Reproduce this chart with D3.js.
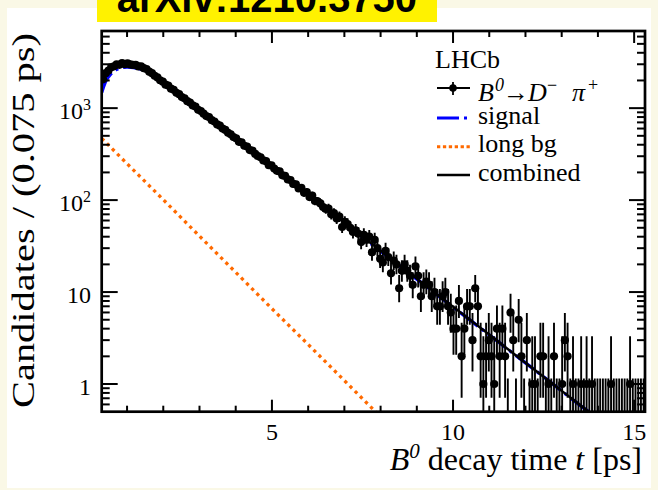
<!DOCTYPE html>
<html>
<head>
<meta charset="utf-8">
<script src="https://cdn.jsdelivr.net/npm/d3@7"></script>
<style>
  body { margin: 0; background: #faf8e6; }
  svg { display: block; }
  text { font-family: "Liberation Serif", "Times New Roman", serif; fill: #000; }
</style>
</head>
<body>
<svg width="658" height="490"></svg>
<script>
// histogram: B0 -> D- pi+ decay time, bins of 0.075 ps starting at 0.3 ps
var binStart = 0.3, binWidth = 0.075;
var counts = [
  2060, 2400, 2560, 2790, 2850, 2990, 2960, 3080, 3010, 3070,
  2990, 2950, 2960, 2840, 2850, 2720, 2660, 2490, 2400, 2250,
  2160, 2010, 1940, 1800, 1760, 1630, 1580, 1470, 1420, 1320,
  1280, 1190, 1150, 1070, 1040, 960, 930, 870, 820, 800,
  740, 715, 665, 645, 600, 580, 540, 520, 485, 470,
  430, 425, 390, 382, 350, 345, 318, 300, 292, 270,
  265, 240, 238, 220, 208, 205, 186, 183, 168, 165,
  150, 148, 134, 136, 120, 122, 108, 112, 98, 97,
  92, 84, 80, 81, 70, 72, 63, 66, 51, 58,
  55, 50, 45, 47, 43, 35, 42, 37, 40, 27,
  37, 30, 23, 21, 28, 24, 16, 22, 20, 11,
  17, 20, 17, 15, 12, 19, 15, 9, 12, 13,
  12, 9, 10, 7, 7, 9, 10, 7, 6, 4,
  4, 8, 2, 4, 7, 7, 3, 11, 7, 2,
  1, 2, 3, 2, 1, 4, 2, 4, 2, 0,
  6, 3, 0, 5, 2, 0, 3, 0, 1, 1,
  0, 2, 2, 0, 1, 0, 2, 0, 0, 1,
  3, 2, 0, 1, 0, 0, 1, 0, 1, 0,
  1, 0, 0, 0, 0, 0, 0, 1, 0, 0,
  0, 0, 0, 0, 1, 0, 0, 0, 0, 0
];

// fit curves
var curveT = [0.3, 0.4, 0.5, 0.6, 0.7, 0.8, 0.9, 1.0, 1.1, 1.2, 1.3, 1.4, 1.5,
  2.0, 2.5, 3.0, 3.5, 4.0, 4.5, 5.0, 5.5, 6.0, 6.5, 7.0, 7.5, 8.0, 8.5, 9.0,
  9.5, 10.0, 10.5, 11.0, 11.5, 12.0, 12.5, 13.0, 13.5, 14.0, 14.5];
var combined = [1950, 2350, 2620, 2820, 2950, 3020, 3050, 3040, 3010, 2960, 2900, 2820, 2716,
  1910, 1345, 946, 666, 469, 330, 232, 164, 115, 81, 57, 40.2, 28.3, 19.9, 14.0,
  9.86, 6.94, 4.89, 3.44, 2.42, 1.70, 1.20, 0.843, 0.594, 0.418, 0.294];
var signal = [1481, 1922, 2229, 2463, 2624, 2722, 2778, 2791, 2783, 2752, 2710, 2647, 2558,
  1809, 1281, 905, 640, 453, 320, 225, 160, 112, 79.3, 55.9, 39.5, 27.9, 19.6, 13.8,
  9.76, 6.88, 4.85, 3.42, 2.41, 1.70, 1.20, 0.84, 0.59, 0.42, 0.29];
var bgT = [0.3, 1, 2, 3, 4, 5, 6, 7, 8];
var longBg = [469, 249, 101, 40.6, 16.4, 6.6, 2.69, 1.09, 0.44];

var xMajor = [5, 10, 15];
var xMinor = [1, 2, 3, 4, 6, 7, 8, 9, 11, 12, 13, 14];
var yMajor = [1, 10, 100, 1000];
var yLabels = [["1", ""], ["10", ""], ["10", "2"], ["10", "3"]];

var svg = d3.select("svg"),
    width = +svg.attr("width"),
    height = +svg.attr("height");

// page: pale border, white panel, yellow arXiv tag
svg.append("rect").attr("width", width).attr("height", height).attr("fill", "#faf8e6");
svg.append("rect").attr("x", 7).attr("y", 8).attr("width", 644).attr("height", 480).attr("fill", "#fff");
svg.append("rect").attr("x", 97).attr("y", 0).attr("width", 340).attr("height", 22).attr("fill", "#fff200");
svg.append("text").attr("x", 267).attr("y", 12).attr("text-anchor", "middle")
  .style("font-family", "'Liberation Sans', Arial, sans-serif").style("font-weight", "bold")
  .style("font-size", "40px").text("arXiv:1210.3750");

// plot frame in pixels
var pL = 101.7, pR = 645, pT = 31, pB = 411.7;
var x = d3.scaleLinear().domain([0.3, 15.3]).range([pL, pR]);
var y = d3.scaleLog().domain([0.5, 6900]).range([pB, pT]);

svg.append("clipPath").attr("id", "plot")
  .append("rect").attr("x", pL).attr("y", pT).attr("width", pR - pL).attr("height", pB - pT);

var plot = svg.append("g").attr("clip-path", "url(#plot)");

// poisson (garwood) intervals as used by RooFit
var lowTab = [0, 0.173, 0.708, 1.367, 2.086, 2.840, 3.620, 4.419, 5.232, 6.057, 6.891];
var upTab = [1.148, 3.300, 4.638, 5.918, 7.163, 8.382, 9.584, 10.77, 11.95, 13.11, 14.27];
function errLow(n) { return n <= 10 ? lowTab[n] : n - Math.sqrt(n) + 0.05; }
function errUp(n) { return n <= 10 ? upTab[n] : n + Math.sqrt(n) + 1; }

var bins = counts.map(function(n, i) {
  return { lo: binStart + i * binWidth, c: binStart + (i + 0.5) * binWidth, hi: binStart + (i + 1) * binWidth, n: n };
});

var line = function(xs) {
  return d3.line()
    .x(function(d, i) { return x(xs[i]); })
    .y(function(d) { return y(d); })
    .curve(d3.curveMonotoneX);
};

// signal (blue dash-dot) and long lived background (orange dots)
plot.append("path").datum(signal).attr("d", line(curveT))
  .attr("fill", "none").attr("stroke", "#0000ff").attr("stroke-width", 3.4)
  .attr("stroke-dasharray", "22,5,3,5");
plot.append("path").datum(longBg).attr("d", line(bgT))
  .attr("fill", "none").attr("stroke", "#ff6a00").attr("stroke-width", 3.3)
  .attr("stroke-dasharray", "3.3,4");

// data points with error bars
var pts = plot.append("g");
pts.selectAll(".ey").data(bins).enter().append("line")
  .attr("x1", function(d) { return x(d.c); }).attr("x2", function(d) { return x(d.c); })
  .attr("y1", function(d) { return d.n > 0 ? y(Math.max(errLow(d.n), 0.3)) : pB + 2; })
  .attr("y2", function(d) { return y(errUp(d.n)); })
  .attr("stroke", "#000").attr("stroke-width", 1.9);
pts.selectAll(".ex").data(bins.filter(function(d) { return d.n > 0; })).enter().append("line")
  .attr("x1", function(d) { return x(d.lo); }).attr("x2", function(d) { return x(d.hi); })
  .attr("y1", function(d) { return y(d.n); }).attr("y2", function(d) { return y(d.n); })
  .attr("stroke", "#000").attr("stroke-width", 1.9);
pts.selectAll("circle").data(bins.filter(function(d) { return d.n > 0; })).enter().append("circle")
  .attr("cx", function(d) { return x(d.c); }).attr("cy", function(d) { return y(d.n); })
  .attr("r", 4.1).attr("fill", "#000");

// combined fit on top
plot.append("path").datum(combined).attr("d", line(curveT))
  .attr("fill", "none").attr("stroke", "#000").attr("stroke-width", 2.4);

// frame and ticks (ROOT style, inside on all four sides)
var axes = svg.append("g").attr("stroke", "#000").attr("stroke-width", 2);
function tick(x1, y1, x2, y2) {
  axes.append("line").attr("x1", x1).attr("y1", y1).attr("x2", x2).attr("y2", y2);
}
xMajor.forEach(function(v) { tick(x(v), pB, x(v), pB - 12); tick(x(v), pT, x(v), pT + 12); });
xMinor.forEach(function(v) { tick(x(v), pB, x(v), pB - 6); tick(x(v), pT, x(v), pT + 6); });
var yMinor = [];
[0.1, 1, 10, 100, 1000].forEach(function(dec) {
  for (var k = 2; k <= 9; k++) {
    var v = dec * k;
    if (v > 0.5 && v < 6900) yMinor.push(v);
  }
});
yMajor.forEach(function(v) { tick(pL, y(v), pL + 16, y(v)); tick(pR, y(v), pR - 16, y(v)); });
yMinor.forEach(function(v) { tick(pL, y(v), pL + 8, y(v)); tick(pR, y(v), pR - 8, y(v)); });
axes.append("rect").attr("x", pL).attr("y", pT).attr("width", pR - pL).attr("height", pB - pT)
  .attr("fill", "none").attr("stroke-width", 2.7);

// tick labels
svg.selectAll(".xl").data(xMajor).enter().append("text")
  .attr("x", function(d) { return x(d); }).attr("y", 440).attr("text-anchor", "middle")
  .style("font-size", "24px").text(function(d) { return d; });
yMajor.forEach(function(v, i) {
  var t = svg.append("text").attr("x", 91).attr("y", y(v) + 11).attr("text-anchor", "end").style("font-size", "24px");
  t.append("tspan").text(yLabels[i][0]);
  if (yLabels[i][1]) t.append("tspan").attr("dy", -9).style("font-size", "16px").text(yLabels[i][1]);
});

// axis titles
var xt = svg.append("text").attr("x", 642).attr("y", 470).attr("text-anchor", "end").style("font-size", "32px");
xt.append("tspan").style("font-style", "italic").text("B");
xt.append("tspan").attr("dy", -12).style("font-size", "21px").style("font-style", "italic").text("0");
xt.append("tspan").attr("dy", 12).text(" decay time ");
xt.append("tspan").style("font-style", "italic").text("t");
xt.append("tspan").text(" [ps]");

svg.append("text").attr("transform", "translate(34,33) rotate(-90)").attr("text-anchor", "end")
  .style("font-size", "32px").attr("textLength", 375).attr("lengthAdjust", "spacingAndGlyphs")
  .text("Candidates / (0.075 ps)");

// legend
var lg = svg.append("g");
lg.append("text").attr("x", 435).attr("y", 68).style("font-size", "26px").text("LHCb");
lg.append("line").attr("x1", 437).attr("x2", 470).attr("y1", 88).attr("y2", 88).attr("stroke", "#000").attr("stroke-width", 1.8);
lg.append("line").attr("x1", 453).attr("x2", 453).attr("y1", 82).attr("y2", 95).attr("stroke", "#000").attr("stroke-width", 1.8);
lg.append("circle").attr("cx", 453).attr("cy", 88).attr("r", 3.8).attr("fill", "#000");
var decay = [
  { x: 478, dy: 0, t: "B", it: true, fs: 26 },
  { x: 495, dy: -10, t: "0", it: true, fs: 18 },
  { x: 503, dy: 0, t: "\u2192", it: false, fs: 26 },
  { x: 528, dy: 0, t: "D", it: true, fs: 26 },
  { x: 547, dy: -10, t: "\u2212", it: false, fs: 18 },
  { x: 572, dy: 0, t: "\u03c0", it: true, fs: 26 },
  { x: 588, dy: -10, t: "+", it: false, fs: 18 }
];
decay.forEach(function(p) {
  lg.append("text").attr("x", p.x).attr("y", 101 + p.dy).style("font-size", p.fs + "px")
    .style("font-style", p.it ? "italic" : "normal").text(p.t);
});

var entries = [
  { y: 118, label: "signal", stroke: "#0000ff", dash: "22,5,3,5", w: 3.2 },
  { y: 146.7, label: "long bg", stroke: "#ff6a00", dash: "3.3,2.6", w: 3 },
  { y: 175, label: "combined", stroke: "#000", dash: null, w: 2.6 }
];
entries.forEach(function(e) {
  lg.append("line").attr("x1", 437).attr("x2", 470).attr("y1", e.y).attr("y2", e.y)
    .attr("stroke", e.stroke).attr("stroke-width", e.w).attr("stroke-dasharray", e.dash);
  lg.append("text").attr("x", 478).attr("y", e.y + 5.5).style("font-size", "26px").text(e.label);
});
</script>
</body>
</html>
